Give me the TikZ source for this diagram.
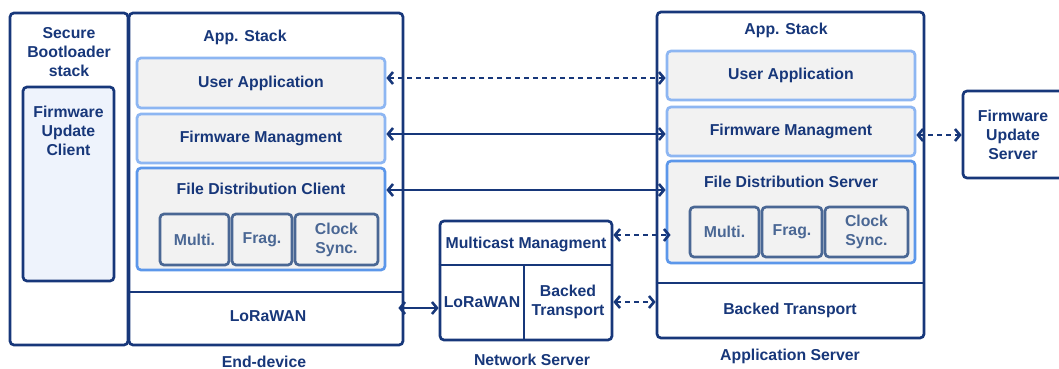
\documentclass[tikz,border=0pt]{standalone}
\usepackage{fontspec}
\setmainfont{Liberation Sans}
\usetikzlibrary{arrows.meta}
\definecolor{navy}{HTML}{17377A}
\definecolor{subblue}{HTML}{4A6794}
\definecolor{lightblue}{HTML}{8DB6F2}
\definecolor{midblue}{HTML}{5C97EA}
\definecolor{gfill}{HTML}{F2F2F2}
\definecolor{bfill}{HTML}{EEF3FC}
\tikzset{
  x=1pt,y=-1pt,
  txt/.style={font=\bfseries\fontsize{15.8}{19}\selectfont, text=navy, align=center, inner sep=0pt},
  outer/.style={draw=navy, line width=2.7pt, rounded corners=4pt, fill=white},
  layer/.style={draw=lightblue, line width=2.7pt, rounded corners=4pt, fill=gfill, txt},
  fdbox/.style={draw=midblue, line width=2.7pt, rounded corners=4pt, fill=gfill},
  sub/.style={draw=subblue, line width=2.7pt, rounded corners=4pt, fill=gfill, txt, text=subblue},
  divider/.style={draw=navy, line width=2.7pt},
  solidarrow/.style={draw=navy, line width=2.6pt, {Straight Barb[length=5pt,width=12pt,line width=2.6pt]}-{Straight Barb[length=5pt,width=12pt,line width=2.6pt]}},
  dasharrow/.style={solidarrow, dash pattern=on 5pt off 4pt},
}
\newcommand{\rbox}[7]{\node[#6, minimum width=#4-#2, minimum height=#5-#3, inner sep=0pt] (#1) at ({(#2+#4)/2},{(#3+#5)/2}) {#7};}
\begin{document}
\begin{tikzpicture}
\useasboundingbox (0,0) rectangle (1059,369);
% ---- End-device side ----
\rbox{sb}{10}{13}{128}{345}{outer}{}
\node[txt] (sbt) at (69,52) {Secure\\Bootloader\\stack};
\rbox{fuc}{23}{87}{114}{281}{outer, fill=bfill}{}
\node[txt] (fuct) at (68.5,131) {Firmware\\Update\\Client};

\rbox{ed}{129}{13}{403}{345}{outer}{}
\draw[divider] (ed.west |- 0,292) -- (ed.east |- 0,292);
\node[txt] (edt) at (245,37) {App. Stack};
\rbox{ua1}{137}{58}{385}{108}{layer}{User Application}
\rbox{fm1}{137}{114}{385}{163}{layer}{Firmware Managment}
\rbox{fd1}{137}{168}{385}{270}{fdbox}{}
\node[txt] (fd1t) at (261,189) {File Distribution Client};
\rbox{mu1}{160}{214}{229}{265}{sub}{Multi.}
\rbox{fr1}{232}{214}{292}{265}{sub}{Frag.}
\rbox{cs1}{295}{214}{378}{265}{sub}{Clock\\Sync.}
\node[txt] (lw1) at (268,316) {LoRaWAN};
\node[txt] (edl) at (264,362) {End-device};

% ---- Network server ----
\rbox{ns}{440}{221}{612}{340}{outer}{}
\draw[divider] (ns.west |- 0,265) -- (ns.east |- 0,265);
\draw[divider] (524,265) -- (ns.south -| 524,0);
\node[txt] (mm) at (526,244) {Multicast Managment};
\node[txt] (nsl) at (482,302) {LoRaWAN};
\node[txt] (nsb) at (568,302) {Backed\\Transport};
\node[txt] (nsn) at (532,360) {Network Server};

% ---- Application server ----
\rbox{as}{657}{12}{924}{338}{outer}{}
\draw[divider] (as.west |- 0,283) -- (as.east |- 0,283);
\node[txt] (ast) at (786,30) {App. Stack};
\rbox{ua2}{667}{51}{915}{100}{layer}{User Application}
\rbox{fm2}{667}{107}{915}{156}{layer}{Firmware Managment}
\rbox{fd2}{667}{161}{915}{263}{fdbox}{}
\node[txt] (fd2t) at (791,182) {File Distribution Server};
\rbox{mu2}{690}{207}{759}{257}{sub}{Multi.}
\rbox{fr2}{762}{207}{822}{257}{sub}{Frag.}
\rbox{cs2}{825}{207}{908}{257}{sub}{Clock\\Sync.}
\node[txt] (bt2) at (790,310) {Backed Transport};
\node[txt] (asl) at (790,356) {Application Server};

% ---- Firmware update server ----
\rbox{fus}{963}{91}{1063}{178}{outer}{}
\node[txt] (fust) at (1013,135) {Firmware\\Update\\Server};

% ---- connectors ----
\draw[dasharrow] (ua1.east |- 0,78) -- (ua2.west |- 0,78);
\draw[solidarrow] (fm1.east |- 0,134) -- (fm2.west |- 0,134);
\draw[solidarrow] (fd1.east |- 0,190) -- (fd2.west |- 0,190);
\coordinate (mmend) at ([xshift=5pt]fd2.west |- 0,235);
\draw[dasharrow] (ns.east |- 0,235) -- (mmend);
\coordinate (lwstart) at ([xshift=-6pt]ed.east |- 0,308);
\draw[solidarrow] (lwstart) -- (ns.west |- 0,308);
\draw[dasharrow] (ns.east |- 0,302) -- (as.west |- 0,302);
\draw[dasharrow] (fm2.east |- 0,135) -- (fus.west |- 0,135);
\end{tikzpicture}
\end{document}
